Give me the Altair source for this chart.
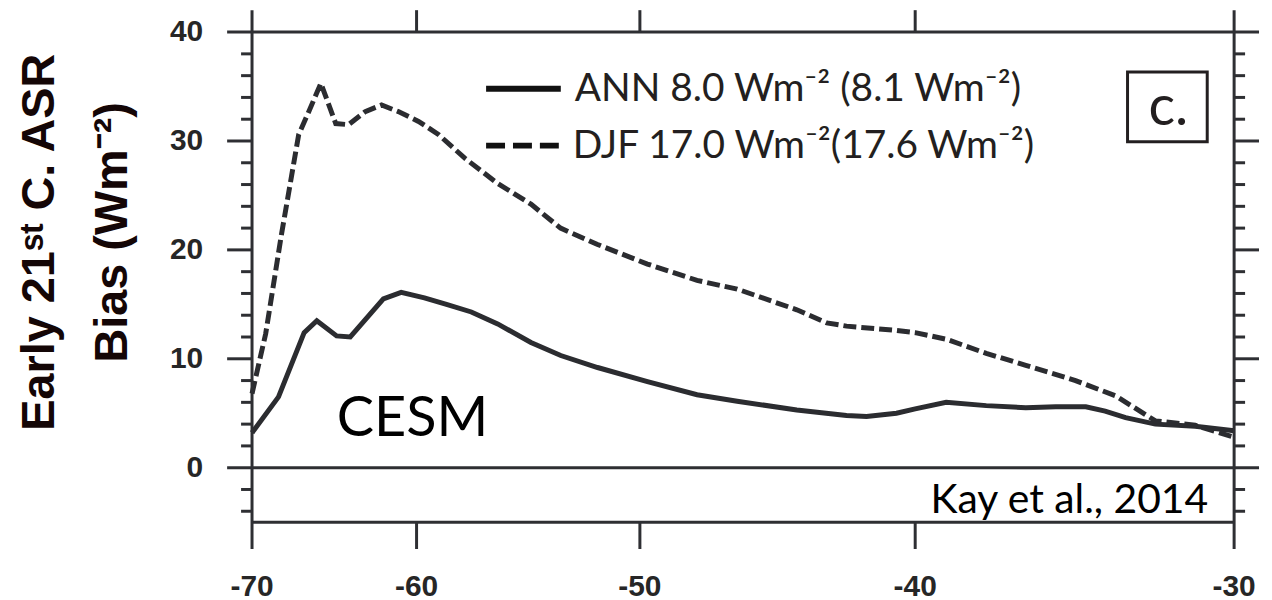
import math
import altair as alt
import pandas as pd

# ---------------- data ----------------
ann_lat = [-70.0, -68.1, -66.4, -65.6, -64.4, -63.6, -61.75, -60.8, -59.6, -58.5,
           -57.3, -56.07, -54.57, -53.27, -51.72, -49.7, -47.77, -46.26, -44.09,
           -42.34, -41.65, -40.63, -40.0, -38.97, -37.66, -36.39, -35.44, -34.5,
           -33.9, -33.27, -32.36, -31.16, -30.0]
ann_val = [3.2, 6.5, 12.4, 13.5, 12.1, 12.0, 15.5, 16.1, 15.6, 15.0,
           14.3, 13.2, 11.5, 10.3, 9.2, 7.9, 6.7, 6.1, 5.3,
           4.8, 4.7, 5.0, 5.4, 6.0, 5.7, 5.5, 5.6, 5.6,
           5.2, 4.6, 4.0, 3.8, 3.4]

djf_lat = [-70.0, -69.0, -67.9, -66.75, -66.1, -65.35, -64.45, -63.7, -62.75,
           -61.85, -60.95, -59.9, -58.9, -57.6, -56.07, -54.57, -53.28, -51.72,
           -49.7, -47.77, -46.26, -44.09, -43.03, -42.34, -40.63, -40.0, -38.97,
           -37.66, -36.39, -34.82, -33.58, -32.36, -31.16, -30.0]
djf_val = [6.8, 12.3, 21.4, 30.6, 32.7, 35.3, 31.6, 31.5, 32.7,
           33.3, 32.7, 31.8, 30.6, 28.4, 26.1, 24.2, 22.0, 20.5,
           18.7, 17.2, 16.4, 14.5, 13.3, 13.0, 12.6, 12.4, 11.8,
           10.5, 9.4, 8.0, 6.6, 4.3, 3.9, 2.8]

x_ticks = [-70, -60, -50, -40, -30]
x_edges = [-70, -30]
x_inner = [-60, -50, -40]
y_major = [0, 10, 20, 30, 40]
y_full = [40, 0]
y_bottom = [-5]
y_inner = [10, 20, 30]
y_minor = [-4, -2, 2, 4, 6, 8, 12, 14, 16, 18, 22, 24, 26, 28, 32, 34, 36, 38]

legend_labels = ["ANN 8.0 Wm\u207b\u00b2 (8.1 Wm\u207b\u00b2)",
                 "DJF 17.0 Wm\u207b\u00b2(17.6 Wm\u207b\u00b2)"]
y_title = ["Early 21\u02e2\u1d57 C. ASR", "Bias (Wm\u207b\u00b2)"]
panel_label = "c."
model_label = "CESM"
source_label = "Kay et al., 2014"

# ---------------- layout / style ----------------
W, H = 986, 492
FRAME = "#2e2f33"
LINE = "#2b2c30"
LABEL = "#262626"
SIN = "sin(datum.lat*PI/180)"

xs = alt.Scale(domain=[math.sin(math.radians(x_ticks[0])), math.sin(math.radians(x_ticks[-1]))],
               nice=False, zero=False)
ys = alt.Scale(domain=[-5, 40], nice=False, zero=False)

X = alt.X("s:Q", scale=xs, axis=None)

lines_df = pd.DataFrame({
    "lat": ann_lat + djf_lat,
    "val": ann_val + djf_val,
    "series": ["ANN"] * len(ann_lat) + ["DJF"] * len(djf_lat),
})
base = alt.Chart(lines_df).transform_calculate(s=SIN)
ann_line = base.transform_filter("datum.series == 'ANN'").mark_line(
    color=LINE, strokeWidth=5).encode(
    x=X, y=alt.Y("val:Q", scale=ys, axis=None),
)
djf_line = base.transform_filter("datum.series == 'DJF'").mark_line(
    color=LINE, strokeWidth=5, strokeDash=[13, 5]).encode(
    x=X, y=alt.Y("val:Q", scale=ys, axis=None),
)

def hrules(vals, x1, x2):
    return alt.Chart(pd.DataFrame({"y": vals})).mark_rule(
        color=FRAME, strokeWidth=3).encode(
        y=alt.Y("y:Q", scale=ys, axis=None), x=alt.value(x1), x2=alt.value(x2))

def vrules(lats, y1, y2):
    return alt.Chart(pd.DataFrame({"lat": lats})).transform_calculate(s=SIN).mark_rule(
        color=FRAME, strokeWidth=3).encode(
        x=X, y=alt.value(y1), y2=alt.value(y2))

frame = [
    hrules(y_full, -25, W + 25),
    hrules(y_bottom, 0, W),
    hrules(y_inner, -25, 0),
    hrules(y_inner, W, W + 25),
    hrules(y_minor, -11, 0),
    hrules(y_minor, W, W + 11),
    vrules(x_edges, -22, H + 27),
    vrules(x_inner, -22, 0),
    vrules(x_inner, H, H + 27),
]

# tick labels (through the scales)
x_lab_df = pd.DataFrame({"lat": x_ticks, "lab": [str(t) for t in x_ticks]})
x_labels = alt.Chart(x_lab_df).transform_calculate(s=SIN).mark_text(
    font="Liberation Sans", fontWeight="bold", fontSize=30, color=LABEL,
    align="center", baseline="alphabetic").encode(
    x=X, y=alt.value(H + 74), text="lab:N")
y_lab_df = pd.DataFrame({"y": y_major, "lab": [str(v) for v in y_major]})
y_labels = alt.Chart(y_lab_df).mark_text(
    font="Liberation Sans", fontWeight="bold", fontSize=30, color=LABEL,
    align="right", baseline="middle").encode(
    y=alt.Y("y:Q", scale=ys, axis=None), x=alt.value(-49), text="lab:N")

one = pd.DataFrame({"a": [0]})
title1 = alt.Chart(one).mark_text(
    font="Liberation Sans", fontWeight="bold", fontSize=47, color="#140606",
    angle=270, align="center", baseline="middle").encode(
    x=alt.value(-213), y=alt.value(211), text=alt.value(y_title[0]))
title2 = alt.Chart(one).mark_text(
    font="Liberation Sans", fontWeight="bold", fontSize=47, color="#140606",
    angle=270, align="center", baseline="middle").encode(
    x=alt.value(-140), y=alt.value(201), text=alt.value(y_title[1]))

leg_solid = alt.Chart(one).mark_rule(color="#111111", strokeWidth=6).encode(
    x=alt.value(235), x2=alt.value(310), y=alt.value(57))
leg_dash = alt.Chart(one).mark_rule(color="#111111", strokeWidth=6, strokeDash=[19, 8]).encode(
    x=alt.value(235), x2=alt.value(312), y=alt.value(114))

LEG_FONT = "Lato"
leg_t1 = alt.Chart(one).mark_text(font=LEG_FONT, fontSize=39, color="#231f20",
                                  align="left", baseline="middle").encode(
    x=alt.value(324), y=alt.value(57), text=alt.value(legend_labels[0]))
leg_t2 = alt.Chart(one).mark_text(font=LEG_FONT, fontSize=39, color="#231f20",
                                  align="left", baseline="middle").encode(
    x=alt.value(322), y=alt.value(114), text=alt.value(legend_labels[1]))

box = alt.Chart(one).mark_rect(fillOpacity=0, stroke="#231f20", strokeWidth=3).encode(
    x=alt.value(879), x2=alt.value(959), y=alt.value(40), y2=alt.value(110))
box_t = alt.Chart(one).mark_text(font="Lato", fontSize=56, color="#231f20",
                                 align="center", baseline="alphabetic").encode(
    x=alt.value(920), y=alt.value(93), text=alt.value(panel_label))

cesm = alt.Chart(one).mark_text(font="Lato", fontSize=56, color="#000000",
                                align="left", baseline="alphabetic").encode(
    x=alt.value(85), y=alt.value(406), text=alt.value(model_label))
kay = alt.Chart(one).mark_text(font="Lato", fontSize=41, color="#000000",
                               align="right", baseline="alphabetic").encode(
    x=alt.value(960), y=alt.value(483), text=alt.value(source_label))

chart = alt.layer(
    ann_line, djf_line, *frame, x_labels, y_labels, title1, title2,
    leg_solid, leg_dash, leg_t1, leg_t2, box, box_t, cesm, kay,
).properties(
    width=W, height=H,
    autosize=alt.AutoSizeParams(type="none"),
    padding={"left": 245, "top": 23, "right": 30, "bottom": 80},
    background="white",
).configure_view(stroke=None)

chart.save("out.html", embed_options={"renderer": "svg", "actions": False})
